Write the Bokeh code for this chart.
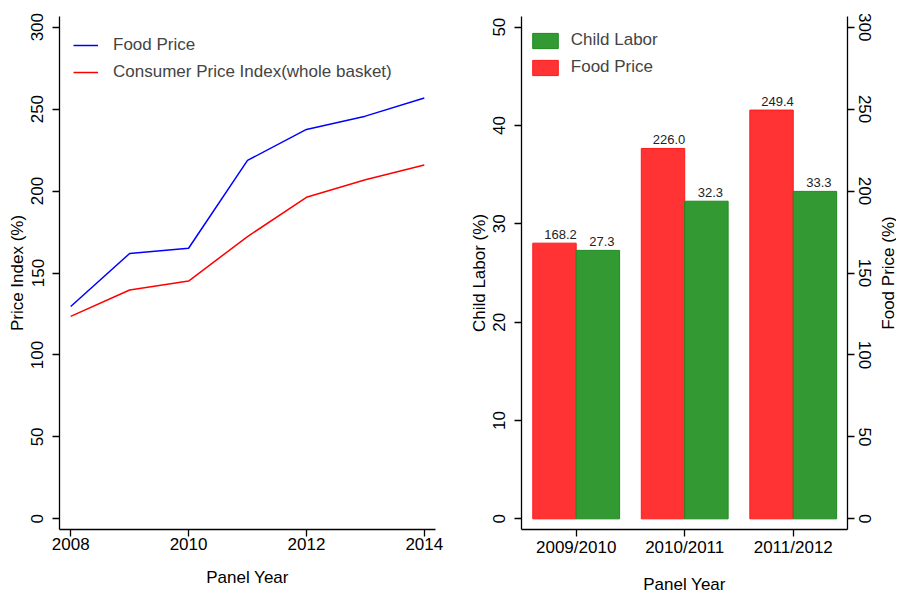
import math
from bokeh.plotting import figure
from bokeh.layouts import row
from bokeh.models import Range1d, LinearAxis, FixedTicker, Legend, LegendItem, ColumnDataSource, Label
from bokeh.core.properties import value
from bokeh.embed import file_html
from bokeh.resources import INLINE

# ---------------- data ----------------
years = [2008, 2009, 2010, 2011, 2012, 2013, 2014]
food_price_index = [129.6, 161.9, 165.1, 218.7, 237.6, 245.7, 256.8]
cpi_index = [123.5, 139.6, 145.1, 172.2, 196.2, 206.9, 215.9]

panels = ["2009/2010", "2010/2011", "2011/2012"]
child_labor = [27.3, 32.3, 33.3]
food_price = [168.2, 226.0, 249.4]

FONT = "Liberation Sans"
FS = "17px"
RED_FILL = "#FF3333"
RED_LINE = "#FF1A1A"
GREEN_FILL = "#339933"
GREEN_LINE = "#1E8A1E"

H = 596
TOP, BOTTOM = 16, 66


def style_axis(ax, vertical=False, tick_standoff=9, label_standoff=2):
    ax.axis_line_color = "black"
    ax.axis_line_width = 1.3
    ax.major_tick_line_color = "black"
    ax.major_tick_line_width = 1.3
    ax.major_tick_out = 7
    ax.major_tick_in = 0
    ax.minor_tick_line_color = None
    ax.major_label_text_font = FONT
    ax.major_label_text_font_size = FS
    ax.major_label_text_color = "black"
    ax.axis_label_text_font = FONT
    ax.axis_label_text_font_size = FS
    ax.axis_label_text_font_style = "normal"
    ax.axis_label_text_color = "black"
    if vertical:
        ax.major_label_orientation = "vertical"
        ax.major_label_standoff = tick_standoff
        ax.axis_label_standoff = label_standoff
    else:
        ax.major_label_standoff = 1
        ax.axis_label_standoff = 15


# ---------------- left panel ----------------
p1 = figure(width=455, height=H, output_backend="svg", toolbar_location=None,
            x_range=Range1d(2007.81, 2014.19), y_range=Range1d(-6.5, 306.5),
            min_border_left=59, min_border_right=20, min_border_top=TOP, min_border_bottom=BOTTOM)
p1.outline_line_color = None
p1.grid.grid_line_color = None

p1.xaxis.ticker = FixedTicker(ticks=[2008, 2010, 2012, 2014])
p1.yaxis.ticker = FixedTicker(ticks=[0, 50, 100, 150, 200, 250, 300])
p1.xaxis.axis_label = "Panel Year"
p1.yaxis.axis_label = "Price Index (%)"
style_axis(p1.xaxis[0])
style_axis(p1.yaxis[0], vertical=True)

l_food = p1.line(years, food_price_index, line_color="blue", line_width=1.5)
l_cpi = p1.line(years, cpi_index, line_color="red", line_width=1.5)

leg1 = Legend(items=[LegendItem(label="Food Price", renderers=[l_food]),
                     LegendItem(label="Consumer Price Index(whole basket)", renderers=[l_cpi])],
              location=(14, 447))
leg1.padding = 0
leg1.margin = 0
leg1.spacing = 7
leg1.glyph_width = 25
leg1.glyph_height = 20
leg1.label_height = 20
leg1.label_standoff = 15
leg1.label_text_font = FONT
leg1.label_text_font_size = FS
leg1.border_line_color = None
leg1.background_fill_alpha = 0
p1.add_layout(leg1)

# ---------------- right panel ----------------
# x coordinates in half-bar units: each bar is 2 units wide, groups separated by 1 unit
n = len(panels)
red_x = [2 + 5 * i for i in range(n)]
green_x = [4 + 5 * i for i in range(n)]
centers = [3 + 5 * i for i in range(n)]

p2 = figure(width=420, height=H, output_backend="svg", toolbar_location=None,
            x_range=Range1d(0.48, 15.5), y_range=Range1d(-6.5 / 6, 306.5 / 6),
            min_border_left=66, min_border_right=28, min_border_top=TOP, min_border_bottom=BOTTOM)
p2.outline_line_color = None
p2.grid.grid_line_color = None
p2.extra_y_ranges = {"food": Range1d(-6.5, 306.5)}

p2.xaxis.ticker = FixedTicker(ticks=centers)
p2.xaxis.major_label_overrides = {c: lab for c, lab in zip(centers, panels)}
p2.xaxis.axis_label = "Panel Year"
p2.yaxis.ticker = FixedTicker(ticks=[0, 10, 20, 30, 40, 50])
p2.yaxis.axis_label = "Child Labor (%)"
style_axis(p2.xaxis[0])
style_axis(p2.yaxis[0], vertical=True)

rax = LinearAxis(y_range_name="food",
                 ticker=FixedTicker(ticks=[0, 50, 100, 150, 200, 250, 300]))
style_axis(rax, vertical=True, tick_standoff=4, label_standoff=0)
p2.add_layout(rax, "right")

src_red = ColumnDataSource(dict(x=red_x, top=food_price, lab=["%.1f" % v for v in food_price]))
src_green = ColumnDataSource(dict(x=green_x, top=child_labor, lab=["%.1f" % v for v in child_labor]))

b_red = p2.vbar(x="x", top="top", bottom=0, width=2, source=src_red, y_range_name="food",
                fill_color=RED_FILL, line_color=RED_LINE, line_width=1)
b_green = p2.vbar(x="x", top="top", bottom=0, width=2, source=src_green,
                  fill_color=GREEN_FILL, line_color=GREEN_LINE, line_width=1)

p2.text(x="x", y="top", text="lab", source=src_red, y_range_name="food",
        text_align="center", text_baseline="alphabetic", x_offset=6, y_offset=-9,
        text_font=value(FONT), text_font_size="13px", text_color="#222222")
p2.text(x="x", y="top", text="lab", source=src_green,
        text_align="center", text_baseline="alphabetic", x_offset=4, y_offset=-9,
        text_font=value(FONT), text_font_size="13px", text_color="#222222")

leg2 = Legend(items=[LegendItem(label="Child Labor", renderers=[b_green]),
                     LegendItem(label="Food Price", renderers=[b_red])],
              location=(7.8, 452))
leg2.padding = 0
leg2.margin = 0
leg2.spacing = 7
leg2.glyph_width = 32
leg2.glyph_height = 19
leg2.label_height = 19
leg2.label_standoff = 10
leg2.label_text_font = FONT
leg2.label_text_font_size = FS
leg2.border_line_color = None
leg2.background_fill_alpha = 0
p2.add_layout(leg2)

# ---------------- right-axis title strip (reads bottom-to-top) ----------------
W3 = 21
p3 = figure(width=W3, height=H, output_backend="svg", toolbar_location=None,
            x_range=Range1d(0, W3), y_range=Range1d(0, H),
            x_axis_type=None, y_axis_type=None,
            min_border_left=0, min_border_right=0, min_border_top=0, min_border_bottom=0)
p3.outline_line_color = None
p3.grid.grid_line_color = None
p3.add_layout(Label(x=12.5, y=298, text="Food Price (%)",
                    angle=math.pi / 2, text_align="center", text_baseline="middle",
                    text_font=FONT, text_font_size=FS, text_color="black"))

layout = row(p1, p2, p3)
open("out.html", "w").write(file_html(layout, INLINE))
